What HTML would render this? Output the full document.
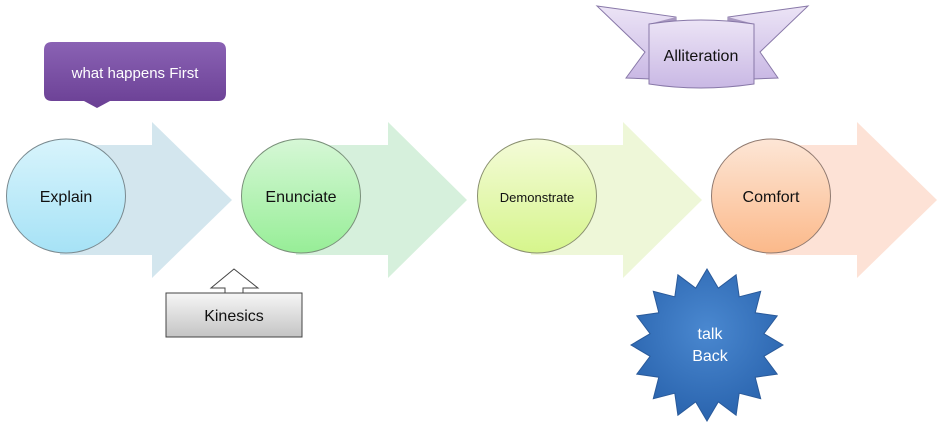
<!DOCTYPE html>
<html><head><style>body{margin:0;background:#fff}svg{display:block}</style></head><body>
<svg width="938" height="422" viewBox="0 0 938 422" xmlns="http://www.w3.org/2000/svg" font-family="Liberation Sans, sans-serif">
<defs>
<linearGradient id="g1" x1="0" y1="0" x2="0" y2="1"><stop offset="0" stop-color="#d8f4fc"/><stop offset="1" stop-color="#a6e2f6"/></linearGradient>
<linearGradient id="g2" x1="0" y1="0" x2="0" y2="1"><stop offset="0" stop-color="#d6f7d6"/><stop offset="1" stop-color="#97ee97"/></linearGradient>
<linearGradient id="g3" x1="0" y1="0" x2="0" y2="1"><stop offset="0" stop-color="#f4fbd8"/><stop offset="1" stop-color="#d6f58c"/></linearGradient>
<linearGradient id="g4" x1="0" y1="0" x2="0" y2="1"><stop offset="0" stop-color="#fde6d6"/><stop offset="1" stop-color="#fbb98a"/></linearGradient>
<linearGradient id="gp" x1="0" y1="0" x2="0" y2="1"><stop offset="0" stop-color="#8a62b4"/><stop offset="1" stop-color="#6a3f94"/></linearGradient>
<linearGradient id="gk" x1="0" y1="0" x2="0" y2="1"><stop offset="0" stop-color="#f6f6f6"/><stop offset="1" stop-color="#c4c4c4"/></linearGradient>
<linearGradient id="gr" x1="0" y1="0" x2="0" y2="1"><stop offset="0" stop-color="#ece4f6"/><stop offset="1" stop-color="#c9b8e4"/></linearGradient>
<radialGradient id="gs" cx="0.5" cy="0.4" r="0.6"><stop offset="0" stop-color="#4a88d0"/><stop offset="1" stop-color="#2a64ae"/></radialGradient>
</defs>
<polygon points="60,145 152,145 152,122 232,200 152,278 152,255 60,255" fill="#d3e6ee"/>
<polygon points="296,145 388,145 388,122 467,200 388,278 388,255 296,255" fill="#d6f0dc"/>
<polygon points="531,145 623,145 623,122 702,200 623,278 623,255 531,255" fill="#eef7d8"/>
<polygon points="766,145 857,145 857,122 937,200 857,278 857,255 766,255" fill="#fde2d6"/>
<ellipse cx="66" cy="196" rx="59.5" ry="57" fill="url(#g1)" stroke="#7a8a90" stroke-width="1"/>
<ellipse cx="301" cy="196" rx="59.5" ry="57" fill="url(#g2)" stroke="#7a907a" stroke-width="1"/>
<ellipse cx="537" cy="196" rx="59.5" ry="57" fill="url(#g3)" stroke="#8a9070" stroke-width="1"/>
<ellipse cx="771" cy="196" rx="59.5" ry="57" fill="url(#g4)" stroke="#907a70" stroke-width="1"/>
<text x="66" y="202" font-size="16" text-anchor="middle" fill="#111">Explain</text>
<text x="301" y="202" font-size="16" text-anchor="middle" fill="#111">Enunciate</text>
<text x="537" y="202" font-size="13" text-anchor="middle" fill="#111">Demonstrate</text>
<text x="771" y="202" font-size="16" text-anchor="middle" fill="#111">Comfort</text>
<path d="M52,42 H218 Q226,42 226,50 V93 Q226,101 218,101 H110 L97,108 L84,101 H52 Q44,101 44,93 V50 Q44,42 52,42 Z" fill="url(#gp)"/>
<text x="135" y="78" font-size="15" text-anchor="middle" fill="#fff">what happens First</text>
<polygon points="234,269 258,288 243,288 243,293 225,293 225,288 211,288" fill="#fff" stroke="#444" stroke-width="1"/>
<rect x="166" y="293" width="136" height="44" fill="url(#gk)" stroke="#444"/>
<text x="234" y="321" font-size="16" text-anchor="middle" fill="#111">Kinesics</text>
<polygon points="597,6 676,17 676,80 626,78 645,52" fill="url(#gr)" stroke="#8878a8"/>
<polygon points="808,6 728,17 728,80 778,78 760,52" fill="url(#gr)" stroke="#8878a8"/>
<polygon points="649,24 676,17 676,24" fill="#a898c0"/>
<polygon points="754,24 728,17 728,24" fill="#a898c0"/>
<path d="M649,24 Q700,16 754,24 V84 Q700,92 649,84 Z" fill="url(#gr)" stroke="#8878a8"/>
<text x="701" y="61" font-size="16" text-anchor="middle" fill="#111">Alliteration</text>
<polygon id="star" fill="url(#gs)" stroke="#2a5a9a" points="" />
<script>
var p=[],cx=707,cy=345,n=16;for(var i=0;i<2*n;i++){var r=i%2?58:76,a=-Math.PI/2+i*Math.PI/n;p.push((cx+r*Math.cos(a)).toFixed(1)+','+(cy+r*Math.sin(a)).toFixed(1));}document.getElementById('star').setAttribute('points',p.join(' '));
</script>
<text x="710" y="339" font-size="16" text-anchor="middle" fill="#fff">talk</text>
<text x="710" y="361" font-size="16" text-anchor="middle" fill="#fff">Back</text>
</svg>
</body></html>
